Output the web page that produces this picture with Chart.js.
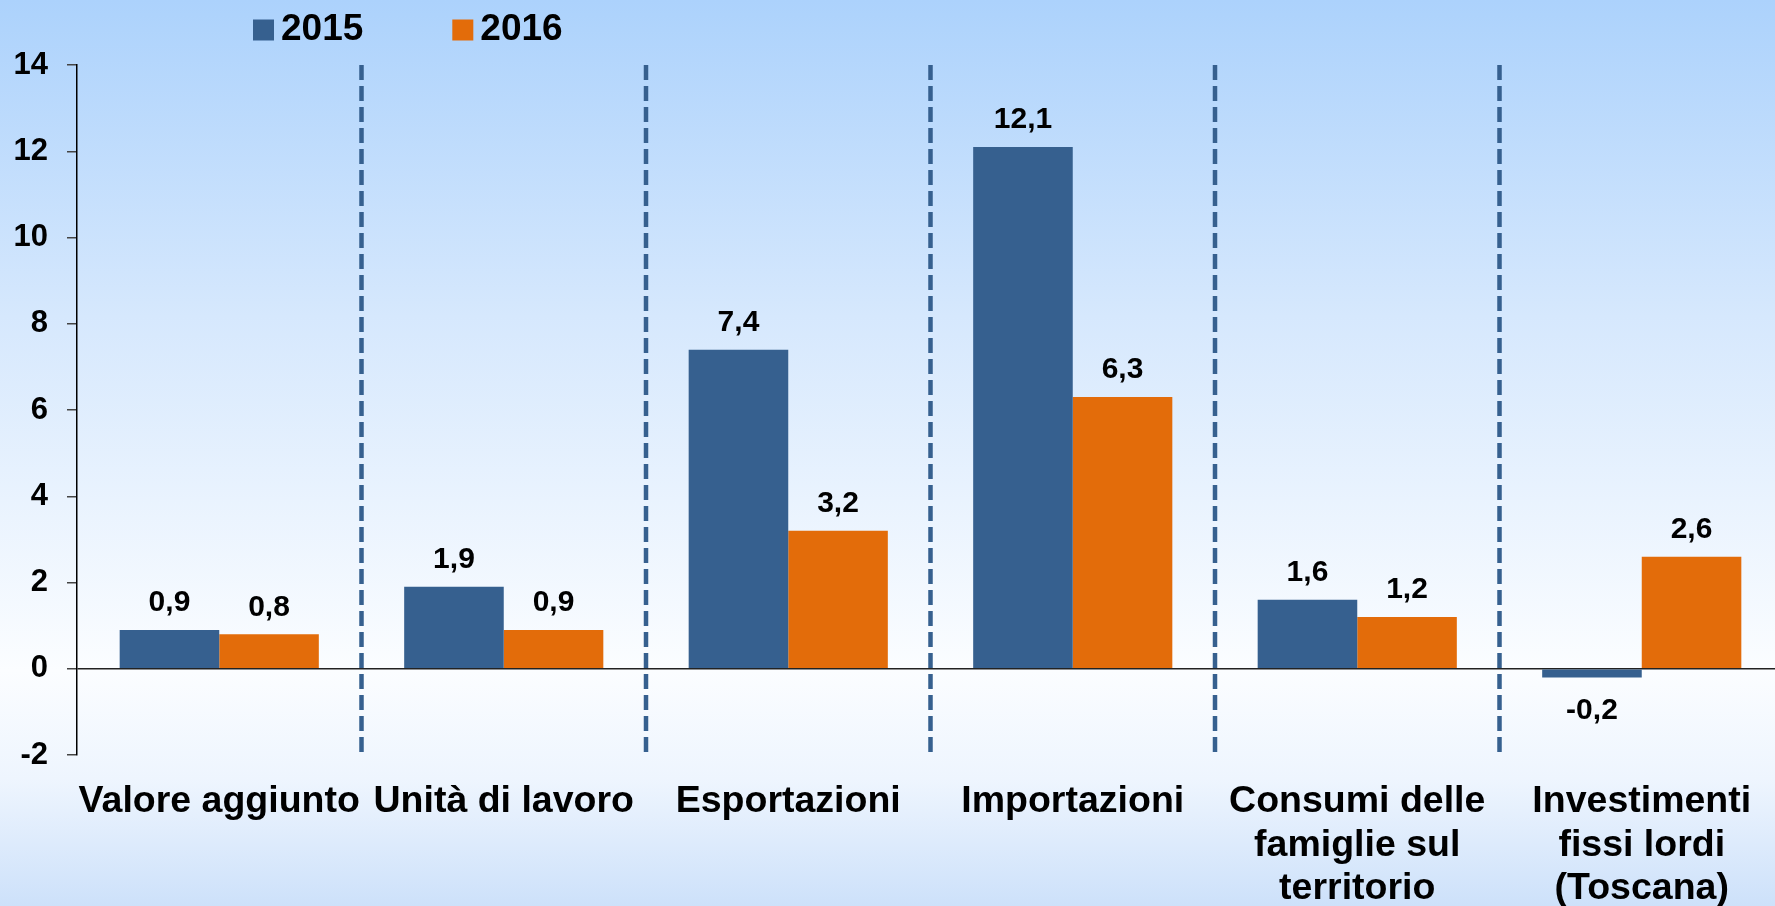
<!DOCTYPE html>
<html>
<head>
<meta charset="utf-8">
<script src="https://cdn.jsdelivr.net/npm/chart.js@4/dist/chart.umd.min.js"></script>
<style>
  html, body { margin: 0; padding: 0; }
  #wrap {
    width: 1775px; height: 906px; overflow: hidden; position: relative;
    background: linear-gradient(to bottom, #acd2fc 0%, #d6e8fd 35%, #fbfdff 74%, #eef5fe 86%, #cde1fa 100%);
  }
  canvas { display: block; }
</style>
</head>
<body>
<div id="wrap">
  <canvas id="chart" width="1784" height="906"></canvas>
</div>
<script>
const categories = [
  ['Valore aggiunto'],
  ['Unità di lavoro'],
  ['Esportazioni'],
  ['Importazioni'],
  ['Consumi delle', 'famiglie sul', 'territorio'],
  ['Investimenti', 'fissi lordi', '(Toscana)']
];
const years = ['2015', '2016'];
const values2015 = [0.9, 1.9, 7.4, 12.1, 1.6, -0.2];
const values2016 = [0.8, 0.9, 3.2, 6.3, 1.2, 2.6];
const yTicks = [-2, 0, 2, 4, 6, 8, 10, 12, 14];

const BLUE = '#36608f';
const ORANGE = '#e36c0a';
const FONT = "'Liberation Sans', Arial, sans-serif";

// dashed separators between the groups
const separators = {
  id: 'separators',
  beforeDatasetsDraw(chart) {
    const {ctx, chartArea, scales: {x}} = chart;
    ctx.save();
    ctx.strokeStyle = BLUE;
    ctx.lineWidth = 4.5;
    ctx.setLineDash([15, 6]);
    for (let i = 1; i < categories.length; i++) {
      const px = (x.getPixelForValue(i - 1) + x.getPixelForValue(i)) / 2;
      ctx.beginPath();
      ctx.moveTo(px, chartArea.top);
      ctx.lineTo(px, chartArea.bottom);
      ctx.stroke();
    }
    ctx.restore();
  }
};

// value labels above / below the bars
const valueLabels = {
  id: 'valueLabels',
  afterDatasetsDraw(chart) {
    const ctx = chart.ctx;
    ctx.save();
    ctx.font = 'bold 30px ' + FONT;
    ctx.fillStyle = '#000';
    ctx.textAlign = 'center';
    ctx.textBaseline = 'middle';
    chart.data.datasets.forEach((ds, di) => {
      chart.getDatasetMeta(di).data.forEach((bar, i) => {
        const v = ds.data[i];
        const y = v >= 0 ? bar.y - 27 : bar.y + 33;
        ctx.fillText(v.toFixed(1).replace('.', ','), bar.x, y);
      });
    });
    ctx.restore();
  }
};

// legend drawn at the top left
const topLegend = {
  id: 'topLegend',
  afterDraw(chart) {
    const ctx = chart.ctx;
    ctx.save();
    ctx.font = 'bold 37px ' + FONT;
    ctx.textBaseline = 'middle';
    ctx.textAlign = 'left';
    let x = 253;
    const yc = 30;
    chart.data.datasets.forEach(ds => {
      ctx.fillStyle = ds.backgroundColor;
      ctx.fillRect(x, yc - 10.5, 21, 21);
      ctx.fillStyle = '#000';
      ctx.fillText(ds.label, x + 28, yc);
      x += 28 + ctx.measureText(ds.label).width + 89;
    });
    ctx.restore();
  }
};

new Chart(document.getElementById('chart'), {
  type: 'bar',
  data: {
    labels: categories,
    datasets: [
      { label: years[0], data: values2015, backgroundColor: BLUE },
      { label: years[1], data: values2016, backgroundColor: ORANGE }
    ]
  },
  options: {
    responsive: false,
    animation: false,
    layout: { padding: { top: 65, left: 0, right: 0, bottom: 0 } },
    plugins: {
      legend: { display: false },
      tooltip: { enabled: false }
    },
    datasets: {
      bar: { categoryPercentage: 0.7, barPercentage: 1.0 }
    },
    scales: {
      x: {
        grid: { display: false },
        border: { display: false },
        ticks: {
          color: '#000',
          padding: 17,
          maxRotation: 0,
          autoSkip: false,
          font: { family: FONT, size: 37.5, weight: 'bold', lineHeight: 1.16 }
        },
        afterFit(scale) { scale.height = 151; }
      },
      y: {
        min: -2,
        max: 14,
        afterBuildTicks(scale) { scale.ticks = yTicks.map(v => ({ value: v })); },
        grid: {
          drawOnChartArea: true,
          color: c => (c.tick && c.tick.value === 0 ? '#222' : 'rgba(0,0,0,0)'),
          lineWidth: 1.5,
          tickColor: '#444',
          tickLength: 10
        },
        border: { display: true, color: '#000', width: 1.5 },
        ticks: {
          color: '#000',
          padding: 19,
          font: { family: FONT, size: 31, weight: 'bold' }
        },
        afterFit(scale) { scale.width = 77; }
      }
    }
  },
  plugins: [separators, valueLabels, topLegend]
});
</script>
</body>
</html>
